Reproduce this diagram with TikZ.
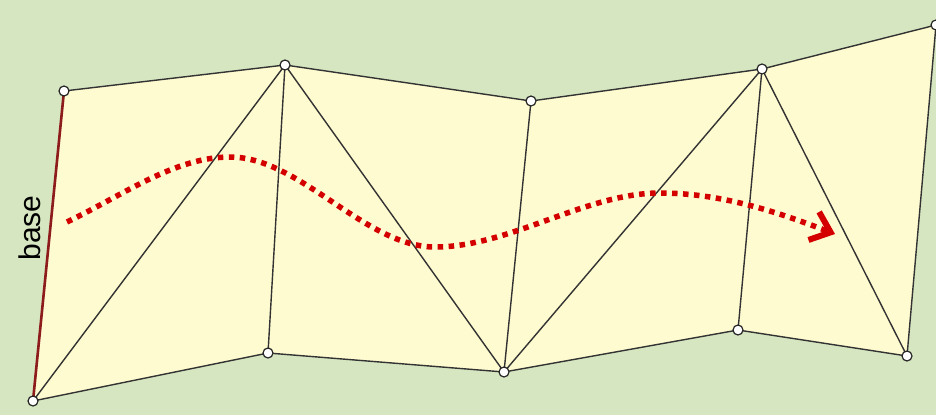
\documentclass[tikz,border=0pt]{standalone}
\usepackage{fontspec}
\setsansfont{Liberation Sans}
\usetikzlibrary{arrows.meta}
\definecolor{meadow}{HTML}{D6E6C1}
\definecolor{sheet}{HTML}{FEFBD0}
\definecolor{baseline}{HTML}{8E1B1B}
\definecolor{pathred}{HTML}{D40000}

\begin{document}
\begin{tikzpicture}[x=1pt,y=-1pt,edge/.style={line width=1.4pt, draw=black!80},basedge/.style={line width=2.6pt, draw=baseline},joint/.style={circle, draw=black!85, fill=white, line width=1.2pt, inner sep=0pt, minimum size=10pt},sweep/.style={draw=pathred, line width=5.5pt, dash pattern=on 5.5pt off 5.5pt, -{Straight Barb[length=18pt,width=30pt,line width=6pt]}},label/.style={font=\sffamily\fontsize{30}{36}\selectfont, inner sep=0pt}]
\fill[meadow] (0,0) rectangle (936,415);
\useasboundingbox (0,0) rectangle (936,415);
% corners of the folded strip
\coordinate (A) at (33,401); \coordinate (B) at (64,91); \coordinate (C) at (285,65); \coordinate (D) at (268,353);
\coordinate (E) at (531,101); \coordinate (F) at (504,372); \coordinate (G) at (762,69); \coordinate (H) at (738,330);
\coordinate (I) at (936,25); \coordinate (J) at (907,356);
\fill[sheet] (A) -- (B) -- (C) -- (E) -- (G) -- (I) -- (J) -- (H) -- (F) -- (D) -- cycle;
\foreach \u/\v in {B/C,C/E,E/G,G/I,A/D,D/F,F/H,H/J,J/I,A/C,C/D,C/F,E/F,F/G,G/H,G/J}
  \draw[edge] (\u) -- (\v);
\draw[basedge] (A) -- (B);
\foreach \p in {A,B,C,D,E,F,G,H,I,J}
  \node[joint] (n\p) at (\p) {};
\node[label,rotate=90] (lbase) at (30,228) {base};
% direction of travel
\coordinate (s0) at (67,222); \coordinate (s1) at (230,157); \coordinate (s2) at (435,247); \coordinate (s3) at (660,193); \coordinate (s4) at (835,234);
\draw[sweep] (s0) .. controls (125,194) and (175,157) .. (s1) .. controls (300,157) and (365,247) .. (s2) .. controls (510,247) and (585,193) .. (s3) .. controls (725,193) and (785,215) .. (s4);
\end{tikzpicture}
\end{document}
